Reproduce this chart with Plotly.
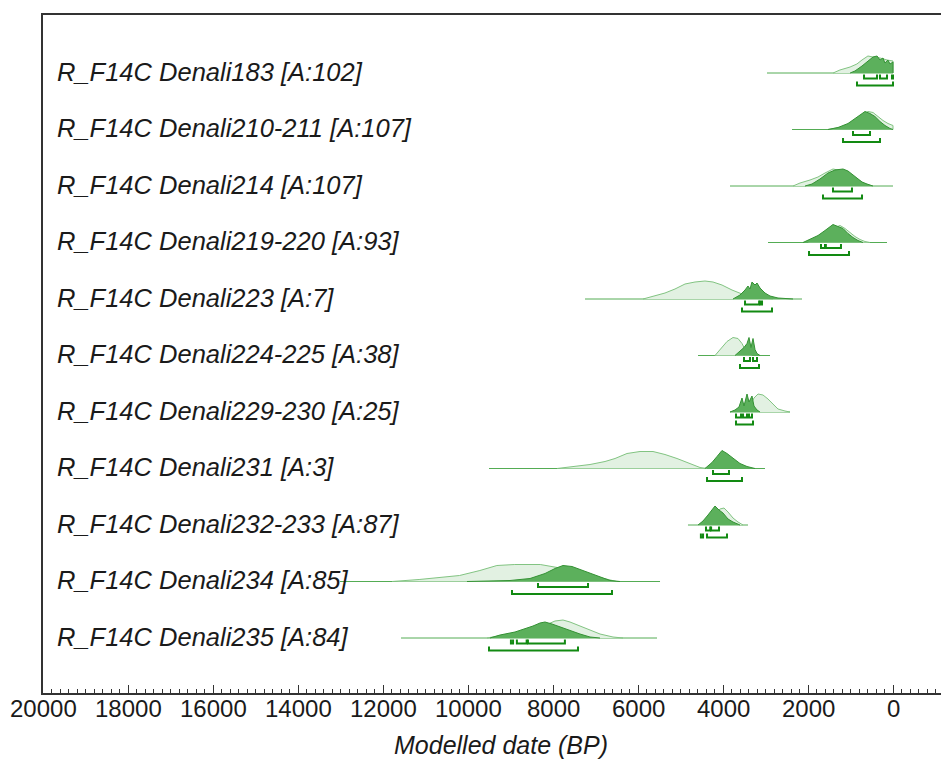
import plotly.graph_objects as go

# ---------------- data ----------------
labels = [
    "R_F14C Denali183 [A:102]",
    "R_F14C Denali210-211 [A:107]",
    "R_F14C Denali214 [A:107]",
    "R_F14C Denali219-220 [A:93]",
    "R_F14C Denali223 [A:7]",
    "R_F14C Denali224-225 [A:38]",
    "R_F14C Denali229-230 [A:25]",
    "R_F14C Denali231 [A:3]",
    "R_F14C Denali232-233 [A:87]",
    "R_F14C Denali234 [A:85]",
    "R_F14C Denali235 [A:84]",
]

# extent of the thin baseline for each item (BP)
line_start = [2965, 2376, 3835, 2941, 7247, 4588, 3835, 9506, 4824, 13012, 11576]
line_end = [0, 0, 0, 141, 2141, 2894, 2424, 3012, 3412, 5482, 5553]

# unmodelled likelihoods (light): date BP and relative density
like_bp = [
    [1410, 1250, 1010, 850, 730, 590, 470, 305, 140, 0],
    [1530, 1130, 894, 729, 588, 470, 353, 235, 118, 0],
    [2353, 2188, 1953, 1765, 1600, 1412, 1294, 1129, 965, 824, 659, 494],
    [2000, 1765, 1529, 1365, 1247, 1129, 1012, 894, 776, 659, 541],
    [5882, 5600, 5365, 5130, 4894, 4659, 4424, 4235, 4024, 3788, 3553, 3318, 3012, 2824],
    [4188, 4024, 3906, 3765, 3647, 3553, 3482, 3412, 3318],
    [3482, 3365, 3271, 3176, 3059, 2941, 2824, 2706, 2541, 2424],
    [7906, 7553, 7129, 6776, 6541, 6259, 5953, 5647, 5365, 5082, 4776, 4541, 4376],
    [4424, 4306, 4165, 4071, 3976, 3882, 3765, 3647, 3529],
    [11788, 11150, 10200, 9720, 9320, 8900, 8300, 7900, 7500, 7100, 6800, 6500],
    [9553, 9129, 8776, 8424, 8118, 7953, 7765, 7600, 7365, 7129, 6894, 6588, 6353],
]
like_h = [
    [0, 3, 6, 9, 13, 17, 16, 15, 13, 12],
    [0, 3, 9, 15, 18, 17, 13, 9, 6, 4],
    [0, 3, 6, 9, 13, 17, 16, 14, 10, 6, 2, 0],
    [0, 5, 12, 15, 17, 14, 10, 6, 3, 1, 0],
    [0, 3, 6, 10, 15, 17, 18, 17, 14, 9, 5, 2, 1, 0],
    [0, 8, 14, 18, 17, 12, 6, 2, 0],
    [0, 6, 14, 18, 17, 13, 8, 3, 1, 0],
    [0, 2, 4, 7, 10, 15, 17, 17, 14, 10, 5, 1, 0],
    [0, 5, 12, 16, 17, 13, 7, 3, 0],
    [0, 2, 6, 11, 16, 17, 17, 14, 10, 6, 3, 0],
    [0, 3, 6, 10, 14, 17, 18, 16, 12, 8, 4, 1, 0],
]

# modelled posteriors (dark)
post_bp = [
    [1010, 895, 730, 590, 470, 375, 305, 235, 190, 120, 70, 0],
    [1530, 1294, 1059, 894, 776, 659, 541, 424, 306, 188, 70, 0],
    [2070, 1906, 1718, 1529, 1365, 1176, 1059, 941, 824, 729, 612, 471],
    [2118, 1953, 1765, 1600, 1412, 1294, 1176, 1059, 941, 824, 706],
    [3765, 3600, 3482, 3412, 3365, 3318, 3247, 3200, 3129, 3012, 2894, 2706, 2353],
    [3718, 3600, 3506, 3435, 3388, 3341, 3294, 3247, 3200, 3129],
    [3835, 3718, 3624, 3553, 3506, 3435, 3388, 3318, 3271, 3200, 3129],
    [4424, 4259, 4141, 4024, 3906, 3765, 3600, 3435, 3247],
    [4588, 4471, 4353, 4259, 4188, 4094, 4000, 3882, 3765, 3600],
    [10024, 9012, 8541, 8188, 7953, 7765, 7553, 7365, 7129, 6894, 6659, 6424],
    [9482, 9247, 8894, 8659, 8471, 8306, 8188, 8024, 7835, 7600, 7365, 7129, 6894],
]
post_h = [
    [0, 2, 7, 12, 16, 17, 13, 15, 10, 13, 9, 11],
    [0, 2, 6, 11, 15, 18, 16, 13, 8, 4, 1, 0],
    [0, 2, 7, 13, 16, 17, 15, 11, 7, 4, 2, 0],
    [0, 3, 7, 12, 18, 16, 14, 9, 5, 2, 0],
    [0, 4, 9, 13, 10, 17, 14, 16, 11, 6, 3, 1, 0],
    [0, 4, 8, 12, 18, 8, 17, 6, 2, 0],
    [0, 2, 5, 14, 6, 18, 10, 16, 6, 2, 0],
    [0, 6, 12, 18, 15, 10, 5, 2, 0],
    [0, 4, 10, 15, 19, 15, 12, 6, 3, 0],
    [0, 1, 3, 8, 13, 16, 15, 12, 8, 4, 1, 0],
    [0, 3, 6, 9, 12, 15, 16, 14, 11, 7, 4, 1, 0],
]

# highest posterior density ranges (BP)
range68 = [
    [(682, 376), (306, 141), (24, 0)],
    [(941, 541)],
    [(1412, 965)],
    [(1694, 1600), (1580, 1224)],
    [(3482, 3150), (3120, 3082)],
    [(3506, 3365), (3294, 3200)],
    [(3694, 3576), (3529, 3435), (3388, 3318)],
    [(4235, 3859)],
    [(4400, 4300), (4280, 4094)],
    [(8353, 7176)],
    [(8990, 8940), (8850, 8620), (8590, 7720)],
]
range95 = [
    [(847, 0)],
    [(1176, 306)],
    [(1647, 729)],
    [(1976, 1035)],
    [(3553, 2847)],
    [(3600, 3153)],
    [(3694, 3294)],
    [(4376, 3553)],
    [(4520, 4470), (4376, 3906)],
    [(8965, 6612)],
    [(9506, 7412)],
]

x_ticks = list(range(0, 20001, 2000))
x_tick_text = [str(v) for v in x_ticks]

# ---------------- styling / layout ----------------
W, H = 941, 760
ML, MR, MT, MB = 43, 0, 15, 67
row_step = 56.5           # vertical spacing of items (axis units == pixels)
first_base = 73 - MT      # first baseline below top of plot area
plot_h = H - MT - MB
FONT = "Liberation Sans, Arial, sans-serif"

def base(k):
    return -(first_base + k * row_step)

LIGHT_FILL = "rgb(226,241,226)"
LIGHT_LINE = "rgb(130,196,130)"
DARK_FILL = "rgb(92,176,92)"
DARK_LINE = "rgb(52,146,52)"
BASE_LINE = "rgb(84,172,84)"
RANGE_COL = "rgb(18,138,18)"

fig = go.Figure()

for k in range(len(labels)):
    b = base(k)
    # baseline
    fig.add_trace(go.Scatter(x=[line_start[k], line_end[k]], y=[b, b], mode="lines",
                             line=dict(color=BASE_LINE, width=1), hoverinfo="skip",
                             showlegend=False))
    # likelihood
    xs = [like_bp[k][0]] + like_bp[k] + [like_bp[k][-1]]
    ys = [b] + [b + v for v in like_h[k]] + [b]
    fig.add_trace(go.Scatter(x=xs, y=ys, mode="lines", fill="toself",
                             fillcolor=LIGHT_FILL, line=dict(color=LIGHT_LINE, width=1),
                             hoverinfo="skip", showlegend=False))
    # posterior
    xs = [post_bp[k][0]] + post_bp[k] + [post_bp[k][-1]]
    ys = [b] + [b + v for v in post_h[k]] + [b]
    fig.add_trace(go.Scatter(x=xs, y=ys, mode="lines", fill="toself",
                             fillcolor=DARK_FILL, line=dict(color=DARK_LINE, width=1),
                             hoverinfo="skip", showlegend=False))
    # ranges (brackets)
    for rng, off in ((range68[k], 5.5), (range95[k], 12.5)):
        bx, by = [], []
        yy = b - off
        for a, c in rng:
            bx += [a, a, c, c, None]
            by += [yy + 4, yy, yy, yy + 4, None]
        fig.add_trace(go.Scatter(x=bx, y=by, mode="lines",
                                 line=dict(color=RANGE_COL, width=2),
                                 hoverinfo="skip", showlegend=False))
    # label
    fig.add_annotation(x=(55 - ML) / (W - ML - MR), xref="paper", y=b + 1.5, yref="y",
                       text=labels[k], showarrow=False, xanchor="left", yanchor="middle",
                       font=dict(family=FONT, size=25.5, color="#1a1a1a", style="italic"))

# x tick labels (placed a little closer to the axis than plotly's default)
for v, t in zip(x_ticks, x_tick_text):
    fig.add_annotation(x=v, xref="x", y=-(708 - (H - MB)) / plot_h, yref="paper",
                       text=t, showarrow=False, xanchor="center", yanchor="middle",
                       font=dict(family=FONT, size=24, color="#1a1a1a"))

fig.add_annotation(x=(501 - ML) / (W - ML - MR), xref="paper",
                   y=-(745 - (H - MB)) / plot_h, yref="paper",
                   text="Modelled date (BP)", showarrow=False, xanchor="center",
                   yanchor="middle",
                   font=dict(family=FONT, size=25, color="#1a1a1a", style="italic"))

x_left = 20000
x_right = -(W - ML - MR - (893 - ML)) / 42.5 * 1000

fig.update_layout(
    width=W, height=H,
    margin=dict(l=ML, r=MR, t=MT, b=MB),
    paper_bgcolor="white", plot_bgcolor="white",
    showlegend=False,
    xaxis=dict(range=[x_left, x_right], tickvals=x_ticks, showticklabels=False,
               ticks="inside", ticklen=8, tickwidth=1, tickcolor="#333",
               minor=dict(dtick=200, ticks="inside", ticklen=4, tickcolor="#333"),
               showline=True, linecolor="#333", linewidth=2, mirror=True,
               showgrid=False, zeroline=False),
    yaxis=dict(range=[-plot_h, 0], showticklabels=False, ticks="",
               showline=True, linecolor="#333", linewidth=2,
               showgrid=False, zeroline=False),
)

fig.write_html("out.html")
